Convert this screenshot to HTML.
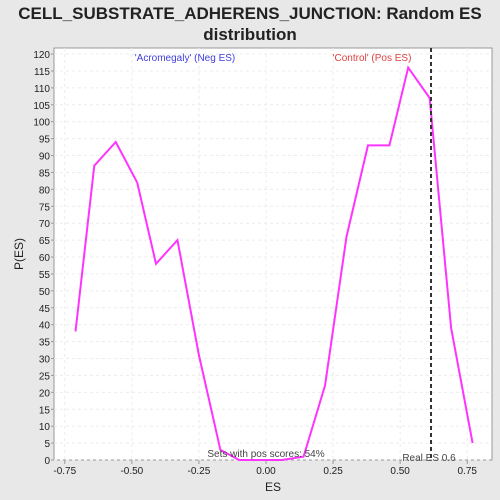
<!DOCTYPE html>
<html><head><meta charset="utf-8"><style>
html,body{margin:0;padding:0;overflow:hidden;width:500px;height:500px;background:#e8e8e8;font-family:"Liberation Sans",sans-serif}
svg{display:block}
</style></head><body>
<svg width="500" height="500" font-family="Liberation Sans, sans-serif">
<text x="250" y="19" text-anchor="middle" font-size="17" font-weight="bold" fill="#222">CELL_SUBSTRATE_ADHERENS_JUNCTION: Random ES</text>
<text x="250" y="40" text-anchor="middle" font-size="17" font-weight="bold" fill="#222">distribution</text>
<rect x="54" y="48" width="438" height="412" fill="#fff" stroke="#999"/>
<g id="grid"></g><g id="axes"></g>
<text x="185" y="61" text-anchor="middle" font-size="10" fill="#4040e0">'Acromegaly' (Neg ES)</text>
<text x="372" y="61" text-anchor="middle" font-size="10" fill="#e04040">'Control' (Pos ES)</text>
<path id="line" fill="none" stroke="#ff33ff" stroke-width="2"/>
<line id="real" stroke="#333" stroke-width="2" stroke-dasharray="4,3"/>
<text x="266" y="457" text-anchor="middle" font-size="10" fill="#444">Sets with pos scores: 54%</text>
<text x="429" y="461" text-anchor="middle" font-size="10" fill="#444">Real ES 0.6</text>
<text x="273" y="491" text-anchor="middle" font-size="12" fill="#222">ES</text>
<text x="23" y="254" text-anchor="middle" font-size="12" fill="#222" transform="rotate(-90 23 254)">P(ES)</text>
</svg>
<script>
const xs=[-0.71,-0.64,-0.56,-0.48,-0.41,-0.33,-0.25,-0.17,-0.10,-0.02,0.06,0.14,0.22,0.30,0.38,0.46,0.53,0.61,0.69,0.77];
const ys=[38,87,94,82,58,65,31,3,0,0,0,1,22,66,93,93,116,107,39,5];
const xTicks=[-0.75,-0.5,-0.25,0,0.25,0.5,0.75];
const xTickLabels=["-0.75","-0.50","-0.25","0.00","0.25","0.50","0.75"];
const realES=0.615;
const X=v=>266+v*268.3, Y=v=>460-v*3.383;
const ns="http://www.w3.org/2000/svg";
const g=document.getElementById('grid'),a=document.getElementById('axes');
function mk(p,t,at){const e=document.createElementNS(ns,t);for(const k in at)e.setAttribute(k,at[k]);p.appendChild(e);return e;}
for(let v=0;v<=120;v+=5){
 const gl=mk(g,'line',{x1:54,x2:492,y1:Y(v),y2:Y(v),stroke:'#ececec','stroke-dasharray':'3,3'});
 
 
 const t=mk(a,'text',{x:50,y:Y(v)+4,'text-anchor':'end','font-size':10,fill:'#222'});t.textContent=v;
 
 
 mk(a,'line',{x1:51,x2:54,y1:Y(v),y2:Y(v),stroke:'#999'});
}
xTicks.forEach((v,i)=>{
 const gl=mk(g,'line',{x1:X(v),x2:X(v),y1:48,y2:460,stroke:'#ececec','stroke-dasharray':'3,3'});
 
 
 mk(a,'line',{x1:X(v),x2:X(v),y1:460,y2:464,stroke:'#999'});
 const t=mk(a,'text',{x:X(v),y:474,'text-anchor':'middle','font-size':10,fill:'#222'});t.textContent=xTickLabels[i];
 
 
});
document.getElementById('line').setAttribute('d',xs.map((x,i)=>(i?'L':'M')+X(x)+','+Y(ys[i])).join(''));
const r=document.getElementById('real');
r.setAttribute('x1',X(realES));r.setAttribute('x2',X(realES));r.setAttribute('y1',48);r.setAttribute('y2',460);
</script>
</body></html>
